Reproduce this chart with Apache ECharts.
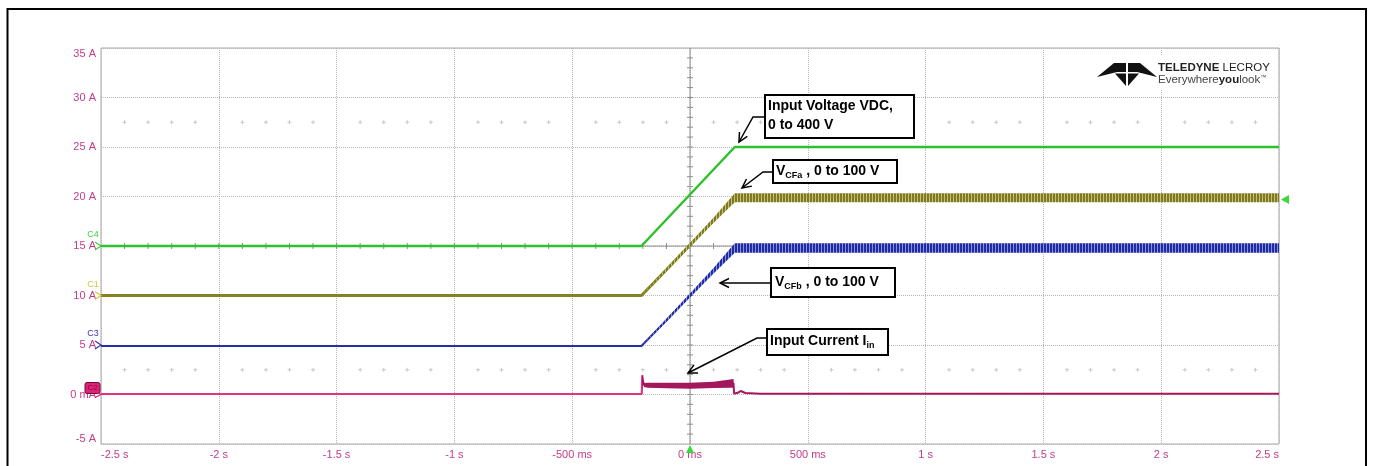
<!DOCTYPE html>
<html><head><meta charset="utf-8">
<script src="https://cdn.jsdelivr.net/npm/echarts@6/dist/echarts.min.js"></script>
<style>html,body{margin:0;padding:0;background:#fff}#c{width:1373px;height:466px}</style>
</head><body><div id="c"></div>
<script>
// ---- tick labels ----
const xTickValues = [-2.5, -2, -1.5, -1, -0.5, 0, 0.5, 1, 1.5, 2, 2.5];
const xTickLabels = ['-2.5 s', '-2 s', '-1.5 s', '-1 s', '-500 ms', '0 ms', '500 ms', '1 s', '1.5 s', '2 s', '2.5 s'];
const yTickValues = [-5, 0, 5, 10, 15, 20, 25, 30, 35];
const yTickLabels = ['-5 A', '0 mA', '5 A', '10 A', '15 A', '20 A', '25 A', '30 A', '35 A'];

// ---- C4: input voltage (green) ----
const c4Time   = [-2.5, -0.206, 0.19, 2.5];
const c4Value  = [15, 15, 25, 25];
const c4Ripple = [0, 0, 0, 0];

// ---- C1: V_CFa (olive) ----
const c1Time   = [-2.5, -0.206, -0.1, 0, 0.1, 0.19, 2.5];
const c1Value  = [10, 10, 12.6, 15.1, 17.6, 19.87, 19.87];
const c1Ripple = [0, 0, 0.3, 0.4, 0.5, 0.9, 0.9];

// ---- C3: V_CFb (blue) ----
const c3Time   = [-2.5, -0.206, -0.1, 0, 0.1, 0.19, 2.5];
const c3Value  = [4.9, 4.9, 7.5, 10.0, 12.5, 14.8, 14.8];
const c3Ripple = [0, 0, 0.3, 0.4, 0.55, 0.95, 0.95];

// ---- C2: input current (magenta) ----
const c2Time   = [-2.5, -0.205, -0.203, -0.199, -0.195, -0.18, -0.1, 0, 0.1, 0.17, 0.185, 0.187, 0.2, 0.215, 0.235, 0.3, 2.5];
const c2Value  = [0.05, 0.05, 1.95, 1.3, 0.95, 0.93, 0.9, 0.88, 0.97, 1.1, 1.12, 0.1, 0.15, 0.35, 0.15, 0.08, 0.08];
const c2Ripple = [0, 0, 0, 0.35, 0.4, 0.5, 0.55, 0.6, 0.65, 0.85, 0.9, 0, 0.05, 0.1, 0.05, 0.05, 0];
const c2ColorSwitchTime = -0.204;

// channel offset markers
const channelNames   = ['C4', 'C1', 'C3', 'C2'];
const channelOffsets = [15, 10, 5, 0];
const triggerLevel = 19.7;

const FONT = '"Liberation Sans", Arial, sans-serif';
const labelColor = '#c43c88';

function stripes(dark, light) {
  const c = document.createElement('canvas');
  c.width = 3; c.height = 4;
  const ctx = c.getContext('2d');
  ctx.fillStyle = dark; ctx.fillRect(0, 0, 2, 4);
  ctx.fillStyle = light; ctx.fillRect(2, 0, 1, 4);
  return { image: c, repeat: 'repeat' };
}

function channelSeries(key, time, value, ripple, lineColor, bandFill, lineWidth) {
  const rows = time.map((t, i) => [t, value[i] - ripple[i] / 2, value[i] + ripple[i] / 2]);
  const mid = time.map((t, i) => [t, value[i]]);
  return [
    { type: 'line', id: key, name: key, data: mid, symbol: 'none',
      lineStyle: { color: lineColor, width: lineWidth }, z: 4 },
    { type: 'custom', id: key + '-band', name: key + '-band', data: rows, encode: { x: 0, y: [1, 2] }, silent: true, z: 5, clip: true,
      renderItem: (params, api) => {
        if (params.dataIndex !== 0) return null;
        const top = rows.map(r => api.coord([r[0], r[2]]));
        const bot = rows.map(r => api.coord([r[0], r[1]])).reverse();
        return { type: 'polygon', shape: { points: top.concat(bot) }, style: { fill: bandFill } };
      } }
  ];
}

// magenta trace: pink before the step, darker magenta after it
const f = (c2ColorSwitchTime - c2Time[0]) / (c2Time[c2Time.length - 1] - c2Time[0]);
const c2LineColor = new echarts.graphic.LinearGradient(0, 0, 1, 0, [
  { offset: 0, color: '#e0357c' }, { offset: f, color: '#e0357c' },
  { offset: f, color: '#a8195f' }, { offset: 1, color: '#a8195f' }
]);

const series = [].concat(
  channelSeries('C4', c4Time, c4Value, c4Ripple, '#2fbf2f', '#2fbf2f', 2.5),
  channelSeries('C1', c1Time, c1Value, c1Ripple, '#878124', stripes('#7f7a1e', '#c4bf7a'), 3),
  channelSeries('C3', c3Time, c3Value, c3Ripple, '#2530a6', stripes('#1f2ca6', '#8a92d4'), 2),
  channelSeries('C2', c2Time, c2Value, c2Ripple, c2LineColor, '#a3175d', 2)
);

const option = {
  animation: false,
  backgroundColor: '#fff',
  grid: { left: 101, right: 94, top: 48, bottom: 22, show: true, borderColor: '#a6a6a6', borderWidth: 1,
          containLabel: false, outerBoundsMode: 'none' },
  xAxis: {
    type: 'value', min: -2.5, max: 2.5, interval: 0.5,
    axisLine: { show: false }, axisTick: { show: false },
    splitLine: { show: true, lineStyle: { type: 'dotted', color: '#b8b8b8', width: 1 } },
    axisLabel: {
      color: labelColor, fontSize: 11, fontFamily: FONT, margin: 5,
      alignMinLabel: 'left', alignMaxLabel: 'right',
      formatter: v => { const i = xTickValues.findIndex(t => Math.abs(t - v) < 1e-6); return i >= 0 ? xTickLabels[i] : ''; }
    }
  },
  yAxis: {
    type: 'value', min: -5, max: 35, interval: 5,
    axisLine: { show: false }, axisTick: { show: false },
    splitLine: { show: true, lineStyle: { type: 'dotted', color: '#b8b8b8', width: 1 } },
    axisLabel: {
      color: labelColor, fontSize: 11, fontFamily: FONT, margin: 5,
      verticalAlignMinLabel: 'bottom', verticalAlignMaxLabel: 'top',
      formatter: v => { const i = yTickValues.findIndex(t => Math.abs(t - v) < 1e-6); return i >= 0 ? yTickLabels[i] : ''; }
    }
  },
  series: series
};

const chart = echarts.init(document.getElementById('c'), null, { renderer: 'canvas' });
chart.setOption(option);

const px = (t, v) => chart.convertToPixel({ gridIndex: 0 }, [t, v]);
const g = [];
const grat = '#8e8e8e';
// center crosshair
{
  const a = px(0, 35), b = px(0, -5);
  g.push({ type: 'line', shape: { x1: a[0], y1: a[1], x2: b[0], y2: b[1] }, style: { stroke: grat, lineWidth: 1 }, z: 1, silent: true });
  for (let v = -4; v <= 34; v++) {
    const p = px(0, v);
    g.push({ type: 'line', shape: { x1: p[0] - 3, y1: p[1], x2: p[0] + 3, y2: p[1] }, style: { stroke: grat, lineWidth: 1 }, z: 1, silent: true });
  }
  const c = px(-2.5, 15), d = px(2.5, 15);
  g.push({ type: 'line', shape: { x1: c[0], y1: c[1], x2: d[0], y2: d[1] }, style: { stroke: grat, lineWidth: 1 }, z: 1, silent: true });
  for (let k = -24; k <= 24; k++) {
    const p = px(k / 10, 15);
    g.push({ type: 'line', shape: { x1: p[0], y1: p[1] - 3, x2: p[0], y2: p[1] + 3 }, style: { stroke: grat, lineWidth: 1 }, z: 1, silent: true });
  }
  [27.5, 2.5].forEach(v => {
    for (let k = -24; k <= 24; k++) {
      if (k % 5 === 0) continue;
      const p = px(k / 10, v);
      g.push({ type: 'line', shape: { x1: p[0] - 2, y1: p[1], x2: p[0] + 2, y2: p[1] }, style: { stroke: '#c8c8c8', lineWidth: 1 }, z: 1, silent: true });
      g.push({ type: 'line', shape: { x1: p[0], y1: p[1] - 2, x2: p[0], y2: p[1] + 2 }, style: { stroke: '#c8c8c8', lineWidth: 1 }, z: 1, silent: true });
    }
  });
}
// trigger markers
{
  const b = px(0, -5);
  g.push({ type: 'polygon', shape: { points: [[b[0], b[1] + 1], [b[0] - 4, b[1] + 9], [b[0] + 4, b[1] + 9]] }, style: { fill: '#3ad83a' }, z: 20, silent: true });
  const r = px(2.5, triggerLevel);
  g.push({ type: 'polygon', shape: { points: [[r[0] + 2, r[1]], [r[0] + 10, r[1] - 4.5], [r[0] + 10, r[1] + 4.5]] }, style: { fill: '#3ad83a' }, z: 20, silent: true });
}
// channel markers
{
  const cols = ['#3ccf3c', '#d4c632', '#3434b4'];
  for (let i = 0; i < 3; i++) {
    const p = px(-2.5, channelOffsets[i]);
    g.push({ type: 'text', style: { text: channelNames[i], x: p[0] - 8, y: p[1] - 11, font: '9px ' + FONT, fill: cols[i], align: 'center', verticalAlign: 'middle' }, z: 20, silent: true });
    g.push({ type: 'polyline', shape: { points: [[p[0] - 6, p[1] - 4], [p[0], p[1]], [p[0] - 6, p[1] + 4]] }, style: { stroke: cols[i], lineWidth: 1.2, fill: 'none' }, z: 20, silent: true });
  }
  const p = px(-2.5, channelOffsets[3]);
  g.push({ type: 'rect', shape: { x: p[0] - 16, y: p[1] - 12, width: 15, height: 11, r: 2 }, style: { fill: '#dd2277', stroke: '#6e0a36', lineWidth: 1 }, z: 20, silent: true });
  g.push({ type: 'text', style: { text: channelNames[3], x: p[0] - 8.5, y: p[1] - 6.5, font: '8px ' + FONT, fill: '#7a0a40', align: 'center', verticalAlign: 'middle' }, z: 21, silent: true });
  g.push({ type: 'polyline', shape: { points: [[p[0] - 6, p[1] - 3], [p[0], p[1]], [p[0] - 6, p[1] + 3]] }, style: { stroke: '#dd2277', lineWidth: 1.2, fill: 'none' }, z: 20, silent: true });
}

// annotations
function arrowEls(pts) {
  const els = [{ type: 'polyline', shape: { points: pts }, style: { stroke: '#000', lineWidth: 1.5, fill: 'none' }, z: 30, silent: true }];
  const [tx, ty] = pts[pts.length - 1], [fx, fy] = pts[pts.length - 2];
  const dx = tx - fx, dy = ty - fy, L = Math.hypot(dx, dy), ux = dx / L, uy = dy / L;
  const hl = 9, hw = 4.5;
  els.push({ type: 'polyline', shape: { points: [[tx - ux * hl - uy * hw, ty - uy * hl + ux * hw], [tx, ty], [tx - ux * hl + uy * hw, ty - uy * hl - ux * hw]] },
             style: { stroke: '#000', lineWidth: 1.5, fill: 'none' }, z: 30, silent: true });
  return els;
}
function box(x, y, w, h) {
  return { type: 'rect', shape: { x: x, y: y, width: w, height: h }, style: { fill: '#fff', stroke: '#000', lineWidth: 2 }, z: 30, silent: true };
}
const rich = {
  b: { fontSize: 14, fontWeight: 'bold', fontFamily: FONT, lineHeight: 18, fill: '#000' },
  s: { fontSize: 9, fontWeight: 'bold', fontFamily: FONT, lineHeight: 9, verticalAlign: 'bottom', fill: '#000' }
};
g.push(box(765, 95, 149, 43));
g.push({ type: 'text', style: { text: 'Input Voltage VDC,\n0 to 400 V', x: 768, y: 97, font: 'bold 14px ' + FONT, lineHeight: 19, fill: '#000', verticalAlign: 'top' }, z: 31, silent: true });
g.push(...arrowEls([[765, 117], [753, 117], [739, 142]]));

g.push(box(773, 160, 124, 23));
g.push({ type: 'text', style: { text: '{b|V}{s|CFa}{b| , 0 to 100 V}', rich: rich, x: 776, y: 171, verticalAlign: 'middle' }, z: 31, silent: true });
g.push(...arrowEls([[773, 172], [763, 172], [742, 188]]));

g.push(box(771, 268, 124, 29));
g.push({ type: 'text', style: { text: '{b|V}{s|CFb}{b| , 0 to 100 V}', rich: rich, x: 775, y: 282, verticalAlign: 'middle' }, z: 31, silent: true });
g.push(...arrowEls([[771, 283], [720, 283]]));

g.push(box(767, 329, 121, 26));
g.push({ type: 'text', style: { text: '{b|Input Current I}{s|in}', rich: rich, x: 770, y: 341, verticalAlign: 'middle' }, z: 31, silent: true });
g.push(...arrowEls([[767, 338], [757, 338], [688, 373]]));

// logo
g.push({ type: 'rect', shape: { x: 1092, y: 55, width: 185, height: 34 }, style: { fill: '#fff' }, z: 25, silent: true });
g.push({ type: 'polygon', shape: { points: [[1097, 77], [1114, 63], [1126, 63], [1126, 72], [1117, 72]] }, style: { fill: '#111' }, z: 26, silent: true });
g.push({ type: 'polygon', shape: { points: [[1157, 77], [1140, 63], [1128, 63], [1128, 72], [1137, 72]] }, style: { fill: '#111' }, z: 26, silent: true });
g.push({ type: 'polygon', shape: { points: [[1115, 73.5], [1126, 73.5], [1126, 86]] }, style: { fill: '#111' }, z: 26, silent: true });
g.push({ type: 'polygon', shape: { points: [[1128, 73.5], [1139, 73.5], [1128, 86]] }, style: { fill: '#111' }, z: 26, silent: true });
g.push({ type: 'text', style: { text: '{a|TELEDYNE }{c|LECROY}', x: 1158, y: 68, verticalAlign: 'middle',
  rich: { a: { fontSize: 11.5, fontWeight: 'bold', fontFamily: FONT, fill: '#222' }, c: { fontSize: 11.5, fontFamily: FONT, fill: '#222' } } }, z: 26, silent: true });
g.push({ type: 'text', style: { text: '{a|Everywhere}{b|you}{a|look}{t|™}', x: 1158, y: 80, verticalAlign: 'middle',
  rich: { a: { fontSize: 11.5, fontFamily: FONT, fill: '#444' }, b: { fontSize: 11.5, fontWeight: 'bold', fontFamily: FONT, fill: '#222' },
          t: { fontSize: 6, fontFamily: FONT, fill: '#444', verticalAlign: 'top' } } }, z: 26, silent: true });

// outer frame
g.push({ type: 'rect', shape: { x: 7.5, y: 9, width: 1358.5, height: 470 }, style: { fill: 'none', stroke: '#000', lineWidth: 2 }, z: 40, silent: true });

chart.setOption({ graphic: g });
</script>
</body></html>
